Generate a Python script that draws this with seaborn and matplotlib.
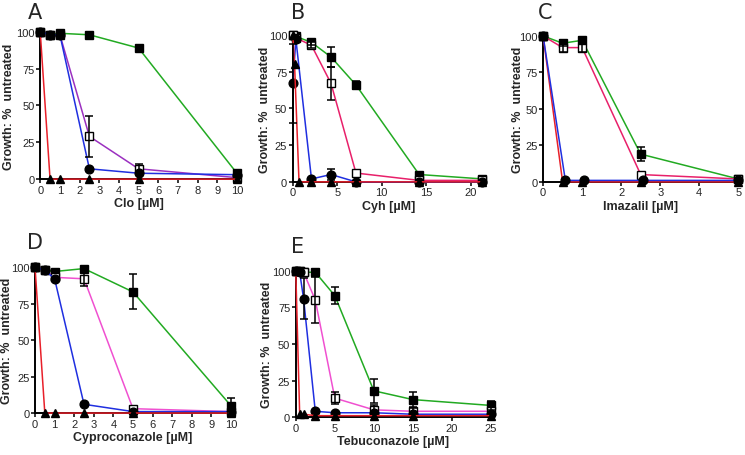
import numpy as np
import pandas as pd
import matplotlib
matplotlib.use("Agg")
import matplotlib.pyplot as plt
import seaborn as sns

# ---- data ----
# A: Clo
clo_x = [0, 0.5, 1, 2.5, 5, 10]
clo_red = [100, 0, 0, 0, 0, 0]
clo_blue = [100, 98, 98, 7, 4, 3]
clo_pink = [100, 98, 98, 29, 7, 1]
clo_pink_err = [0, 0, 0, 14, 3, 0]
clo_green = [100, 98, 99, 98, 89, 4]
clo_green_err = [0, 0, 0, 0, 0, 0]

# B: Cyh
cyh_x_red = [0, 0.2, 0.7, 2.1, 4.3, 7.1, 14.2, 21.3]
cyh_red = [100, 80, 0, 0, 0, 0, 0, 0]
cyh_x = [0, 0.35, 2.1, 4.3, 7.1, 14.2, 21.3]
cyh_blue = [67, 97, 2, 5, 0, 0, 0]
cyh_blue_err = [27, 0, 0, 4, 0, 0, 0]
cyh_pink = [100, 98, 93, 67, 6, 1, 1]
cyh_pink_err = [0, 0, 2, 11, 0, 0, 0]
cyh_green = [100, 99, 95, 85, 66, 5, 2]
cyh_green_err = [0, 0, 2, 7, 3, 0, 0]

# C: Imazalil
ima_x = [0, 0.5, 1, 2.5, 5]
ima_x_blue = [0, 0.57, 1.05, 2.55, 5]
ima_red = [100, 0, 0, 0, 0]
ima_blue = [100, 1, 1, 1, 1]
ima_pink = [100, 92, 92, 5, 2]
ima_pink_err = [0, 3, 3, 0, 0]
ima_green = [100, 95, 97, 19, 2]
ima_green_err = [0, 2, 2, 5, 0]

# D: Cyproconazole
cyp_x = [0, 0.5, 1, 2.5, 5, 10]
cyp_red = [100, 0, 0, 0, 0, 0]
cyp_blue = [100, 98, 92, 6, 1, 1]
cyp_pink = [100, 98, 93, 92, 3, 1]
cyp_pink_err = [0, 0, 0, 5, 0, 0]
cyp_green = [100, 98, 97, 99, 83, 5]
cyp_green_err = [0, 0, 0, 0, 12, 5]

# E: Tebuconazole
teb_x = [0, 0.5, 1, 2.5, 5, 10, 15, 25]
teb_red = [100, 2, 2, 1, 1, 1, 1, 1]
teb_blue = [100, 99, 81, 4, 3, 3, 2, 2]
teb_blue_err = [0, 0, 14, 0, 0, 0, 0, 0]
teb_pink = [100, 100, 99, 80, 13, 5, 4, 4]
teb_pink_err = [0, 0, 0, 16, 4, 3, 2, 0]
teb_green = [100, 100, 99, 99, 83, 18, 12, 8]
teb_green_err = [0, 0, 0, 0, 6, 8, 5, 3]

RED = "#e8202a"
BLUE = "#1f2fe0"
GREEN = "#22aa22"

sns.set_style("ticks")
plt.rcParams["font.family"] = ["Liberation Sans Narrow", "Liberation Sans", "DejaVu Sans"]

fig = plt.figure(figsize=(7.45, 4.56), dpi=100)


def series(ax, x, y, color, marker, filled=True, err=None, ms=6.3):
    df = pd.DataFrame({"x": x, "y": y})
    sns.lineplot(data=df, x="x", y="y", ax=ax, color=color, lw=1.1,
                 marker=marker, markersize=ms,
                 markerfacecolor="black" if filled else "white",
                 markeredgecolor="black", markeredgewidth=1.0,
                 clip_on=False, zorder=3)
    if err is not None:
        e = np.array(err, dtype=float)
        m = e > 0
        ax.errorbar(np.array(x)[m], np.array(y)[m], yerr=e[m], fmt="none",
                    ecolor="black", elinewidth=1.1, capsize=3, capthick=1.1,
                    clip_on=False, zorder=4)


def style(ax, xmax, xticks, xlabel, letter, lx, ly, ylx):
    ax.set_xlim(0, xmax)
    ax.set_ylim(0, 100)
    ax.set_xticks(xticks)
    ax.set_yticks([0, 25, 50, 75, 100])
    ax.set_xlabel(xlabel, fontsize=9, fontweight="bold", labelpad=2)
    ax.set_ylabel("Growth: %  untreated", fontsize=9, fontweight="bold")
    ax.yaxis.set_label_coords(ylx, 0.5)
    ax.tick_params(labelsize=8, width=1.3, length=3, pad=1)
    for s in ["left", "bottom"]:
        ax.spines[s].set_linewidth(1.4)
        ax.spines[s].set_color("black")
    sns.despine(ax=ax)
    fig.text(lx, ly, letter, fontsize=15, ha="center", va="center",
             family=["DejaVu Sans"])


# A
ax = fig.add_axes([0.054, 0.605, 0.264, 0.323])
series(ax, clo_x, clo_green, GREEN, "s", err=clo_green_err)
series(ax, clo_x, clo_pink, "#9b30c0", "s", filled=False, err=clo_pink_err)
series(ax, clo_x, clo_blue, BLUE, "o")
series(ax, clo_x, clo_red, RED, "^")
style(ax, 10, range(0, 11), "Clo [µM]", "A", 0.047, 0.972, -0.13)

# B
ax = fig.add_axes([0.393, 0.599, 0.258, 0.322])
series(ax, cyh_x, cyh_green, GREEN, "s", err=cyh_green_err)
series(ax, cyh_x, cyh_pink, "#e8206a", "s", filled=False, err=cyh_pink_err)
series(ax, cyh_x, cyh_blue, BLUE, "o", err=cyh_blue_err)
series(ax, cyh_x_red, cyh_red, RED, "^")
style(ax, 21.6, [0, 5, 10, 15, 20], "Cyh [µM]", "B", 0.400, 0.972, -0.115)

# C
ax = fig.add_axes([0.729, 0.599, 0.262, 0.320])
series(ax, ima_x, ima_green, GREEN, "s", err=ima_green_err)
series(ax, ima_x, ima_pink, "#e8206a", "s", filled=False, err=ima_pink_err)
series(ax, ima_x, ima_red, RED, "^")
series(ax, ima_x_blue, ima_blue, BLUE, "o")
style(ax, 5, range(0, 6), "Imazalil [µM]", "C", 0.732, 0.972, -0.10)

# D
ax = fig.add_axes([0.047, 0.092, 0.263, 0.320])
series(ax, cyp_x, cyp_green, GREEN, "s", err=cyp_green_err)
series(ax, cyp_x, cyp_pink, "#f050d0", "s", filled=False, err=cyp_pink_err)
series(ax, cyp_x, cyp_blue, BLUE, "o")
series(ax, cyp_x, cyp_red, RED, "^")
style(ax, 10, range(0, 11), "Cyproconazole [µM]", "D", 0.047, 0.467, -0.11)

# E
ax = fig.add_axes([0.397, 0.083, 0.262, 0.321])
series(ax, teb_x, teb_green, GREEN, "s", err=teb_green_err)
series(ax, teb_x, teb_pink, "#f050d0", "s", filled=False, err=teb_pink_err)
series(ax, teb_x, teb_blue, BLUE, "o", err=teb_blue_err)
series(ax, teb_x, teb_red, RED, "^")
style(ax, 25, [0, 5, 10, 15, 20, 25], "Tebuconazole [µM]", "E", 0.399, 0.458, -0.118)

fig.savefig("out.png", dpi=100)
